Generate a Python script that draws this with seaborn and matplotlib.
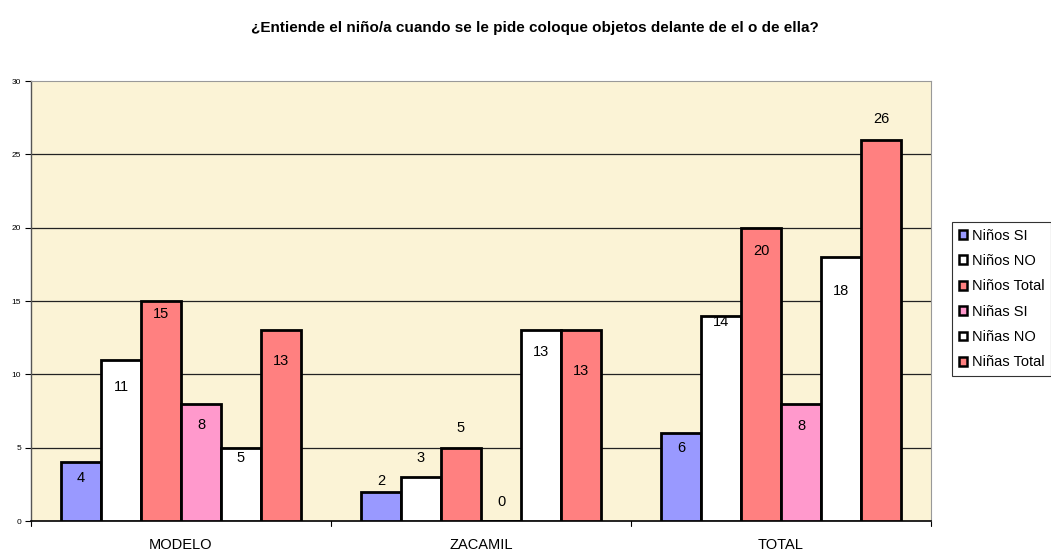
import numpy as np
import pandas as pd
import matplotlib
matplotlib.use("Agg")
import matplotlib.pyplot as plt
import seaborn as sns

# ---- data ----
categories = ["MODELO", "ZACAMIL", "TOTAL"]
series = ["Niños SI", "Niños NO", "Niños Total", "Niñas SI", "Niñas NO", "Niñas Total"]
ninos_si = [4, 2, 6]
ninos_no = [11, 3, 14]
ninos_total = [15, 5, 20]
ninas_si = [8, 0, 8]
ninas_no = [5, 13, 18]
ninas_total = [13, 13, 26]
title = "¿Entiende el niño/a cuando se le pide coloque objetos delante de el o de ella?"

# ---- style ----
colors = ["#9999FF", "#FFFFFF", "#FF8080", "#FF99CC", "#FFFFFF", "#FF8080"]
# label vertical offsets (data units, relative to bar top), per series per category
label_offsets = [
    [-1.07, 0.73, -1.0],
    [-1.87, 1.29, -0.45],
    [-0.89, 1.34, -1.6],
    [-1.46, 1.3, -1.5],
    [-0.71, -1.45, -2.3],
    [-2.1, -2.78, 1.4],
]

values = [ninos_si, ninos_no, ninos_total, ninas_si, ninas_no, ninas_total]
rows = []
for s, vals in zip(series, values):
    for c, v in zip(categories, vals):
        rows.append({"cat": c, "serie": s, "val": v})
df = pd.DataFrame(rows)

sns.set_style("white")
plt.rcParams["font.family"] = ["Liberation Sans", "DejaVu Sans"]
plt.rcParams["text.color"] = "black"
plt.rcParams["xtick.color"] = "black"
plt.rcParams["ytick.color"] = "black"
plt.rcParams["axes.labelcolor"] = "black"

fig = plt.figure(figsize=(10.51, 5.52), dpi=100)
ax = fig.add_axes([31 / 1051, 1 - 521 / 552, 900 / 1051, 440 / 552])
ax.set_facecolor("#FBF3D6")

sns.barplot(data=df, x="cat", y="val", hue="serie", order=categories,
            hue_order=series, palette=colors, edgecolor="black",
            linewidth=2, width=0.8, saturation=1, ax=ax, legend=True, zorder=3)

ax.set_xlim(-0.5, 2.5)
ax.set_ylim(0, 30)
ax.set_yticks(range(0, 31, 5))
ax.set_yticklabels([str(t) for t in range(0, 31, 5)], fontsize=6)
for t in range(5, 30, 5):
    ax.axhline(t, color="#222222", lw=0.9, zorder=1)
ax.set_xlabel("")
ax.set_ylabel("")
ax.set_xticks([0, 1, 2])
ax.set_xticklabels(categories, fontsize=10.5)
ax.tick_params(axis="x", length=0, pad=12, labelcolor="black")
ax.tick_params(axis="y", length=4, width=0.8, direction="out", left=True, pad=3,
               labelcolor="black")
for b in [-0.5, 0.5, 1.5, 2.5]:
    ax.plot([b, b], [0, -0.35], color="black", lw=0.8, clip_on=False, transform=ax.transData)

for sp in ["top", "right"]:
    ax.spines[sp].set_color("#999999")
    ax.spines[sp].set_linewidth(0.8)
ax.spines["left"].set_color("#555555")
ax.spines["left"].set_linewidth(1)
ax.spines["bottom"].set_color("black")
ax.spines["bottom"].set_linewidth(1.2)

for i, cont in enumerate(ax.containers):
    for j, bar in enumerate(cont):
        v = values[i][j]
        x = bar.get_x() + bar.get_width() / 2
        y = v + label_offsets[i][j]
        ax.text(x, y, str(v), ha="center", va="center", fontsize=10.5,
                color="black", zorder=5)

leg = ax.legend(loc="upper left", bbox_to_anchor=(952 / 1051, 1 - 222 / 552),
                bbox_transform=fig.transFigure, fontsize=10.5, frameon=True,
                fancybox=False, edgecolor="black", handlelength=0.55,
                handleheight=0.55, handletextpad=0.35, labelspacing=0.78,
                borderpad=0.45, borderaxespad=0)
leg.get_frame().set_linewidth(0.8)
for txt in leg.get_texts():
    txt.set_color("black")
for h in leg.legend_handles:
    h.set_linewidth(1.8)

fig.text(535 / 1051, 1 - 28 / 552, title, ha="center", va="center",
         fontsize=11, fontweight="bold", color="black")

fig.savefig("out.png", dpi=100)
